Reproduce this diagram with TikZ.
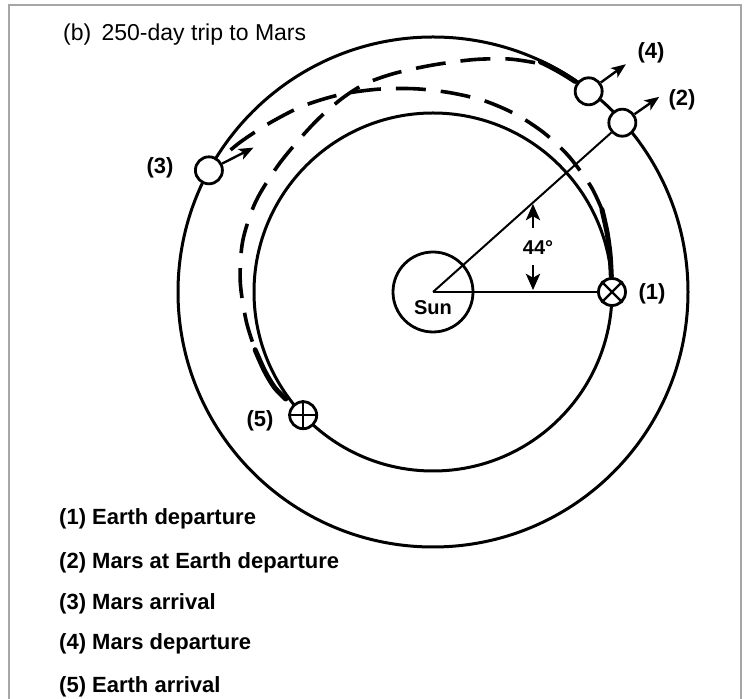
\documentclass[tikz,border=0pt]{standalone}
\usepackage{fontspec}
\setmainfont{Liberation Sans}
\usetikzlibrary{calc}
\tikzset{
  orbit/.style={line width=3pt},
  traj/.style={line width=3.6pt, dash pattern=on 30pt off 15pt, line cap=butt},
  thickseg/.style={line width=5pt, line cap=round},
  body/.style={circle, draw, fill=white, line width=2.8pt, minimum size=27pt, inner sep=0pt},
  lbl/.style={font=\fontsize{22}{26}\selectfont\bfseries, inner sep=0pt},
  small/.style={font=\fontsize{20}{24}\selectfont\bfseries, inner sep=0pt},
  vel/.style={line width=2.4pt, shorten >=8pt},
  angarrow/.style={line width=2.2pt, shorten >=9pt},
  radial/.style={line width=2pt},
}
% filled stealth head: #1 tip coordinate, #2 direction angle, #3 length, #4 half-angle
\newcommand\headat[4]{%
  \fill (#1) -- ($(#1)+(#2+180-#4:#3)$) -- ($(#1)+(#2+180:0.68*#3)$) -- ($(#1)+(#2+180+#4:#3)$) -- cycle;}
\begin{document}
\begin{tikzpicture}[x=1pt,y=1pt]
\useasboundingbox (0,0) rectangle (748,699);
\fill[white] (0,0) rectangle (748,699);
\draw[gray!70, line width=1.5pt] (9,0) -- (9,694) -- (741,694) -- (741,0);
\coordinate (O) at (433,407);
% orbits
\draw[orbit] (O) circle (179);
\draw[orbit] (O) circle (255);
% outward trajectory (1) -> (3)
\draw[thickseg, shift={(O)}] plot[smooth] coordinates {(5:179) (12:181) (19:184) (26:188)};
\draw[traj, shift={(O)}] plot[smooth] coordinates {(26:188) (34:190) (45:192) (55:194) (65:196) (75:198) (85:200) (95:204) (105:210) (115:218) (125:227) (134:235) (142:244) (148:251)};
% return trajectory (4) -> (5)
\draw[thickseg] ($(O)+(56:254)$) arc (56:65:254);
\draw[traj, shift={(O)}] plot[smooth] coordinates {(66:251) (72:245) (80:236) (90:227) (100:222) (108:219) (115:214) (123:208) (131:203) (141:200) (153:199) (165:197) (177:193) (189:189) (198:187)};
\draw[thickseg, shift={(O)}] plot[smooth] coordinates {(198:187) (205:186) (211:185) (216:182)};
% sun
\node[circle, draw, line width=2.8pt, minimum size=80pt, inner sep=0pt] (sun) at (O) {};
\node[small] (suntxt) at (433,391) {Sun};
% bodies
\node[body] (e1) at ($(O)+(0:179)$) {};
\node[body] (e5) at ($(O)+(223.5:179)$) {};
\node[body] (m2) at ($(O)+(41.8:254)$) {};
\node[body] (m4) at ($(O)+(52.2:254)$) {};
\node[body] (m3) at ($(O)+(151.5:255)$) {};
% radial lines
\draw[radial] (O) -- (e1);
\draw[radial] (O) -- (m2);
\draw[line width=2.2pt] (e1.45) -- (e1.225) (e1.135) -- (e1.315);
\draw[line width=2.2pt] (e5.north) -- (e5.south) (e5.east) -- (e5.west);
% velocity arrows
\coordinate (v2) at ($(m2)+(35:45)$);
\coordinate (v4) at ($(m4)+(36:46)$);
\coordinate (v3) at ($(m3)+(27:50)$);
\draw[vel] (m2) -- (v2);
\draw[vel] (m4) -- (v4);
\draw[vel] (m3) -- (v3);
\headat{v2}{35}{16}{22}
\headat{v4}{36}{16}{22}
\headat{v3}{27}{16}{22}
% angle
\coordinate (upS) at (533,471);
\coordinate (upT) at (533,495);
\coordinate (dnS) at (533,434);
\coordinate (dnT) at (533,409);
\draw[angarrow] (upS) -- (upT);
\draw[angarrow] (dnS) -- (dnT);
\headat{upT}{90}{18}{24}
\headat{dnT}{-90}{18}{24}
\node[small] (ang) at (538,451) {44°};
% labels
\node[lbl] (l1) at (652,405) {(1)};
\node[lbl] (l2) at (682,599) {(2)};
\node[lbl] (l3) at (160,531) {(3)};
\node[lbl] (l4) at (651,646) {(4)};
\node[lbl] (l5) at (260,278) {(5)};
% title
\node[anchor=west, inner sep=0pt, font=\fontsize{23}{27}\selectfont] (title) at (63,664) {(b)\hspace{0.45em}250-day trip to Mars};
% legend
\node[lbl, anchor=west] (k1) at (59,180) {(1) Earth departure};
\node[lbl, anchor=west] (k2) at (59,136) {(2) Mars at Earth departure};
\node[lbl, anchor=west] (k3) at (59,95) {(3) Mars arrival};
\node[lbl, anchor=west] (k4) at (59,55) {(4) Mars departure};
\node[lbl, anchor=west] (k5) at (59,12) {(5) Earth arrival};
\end{tikzpicture}
\end{document}
